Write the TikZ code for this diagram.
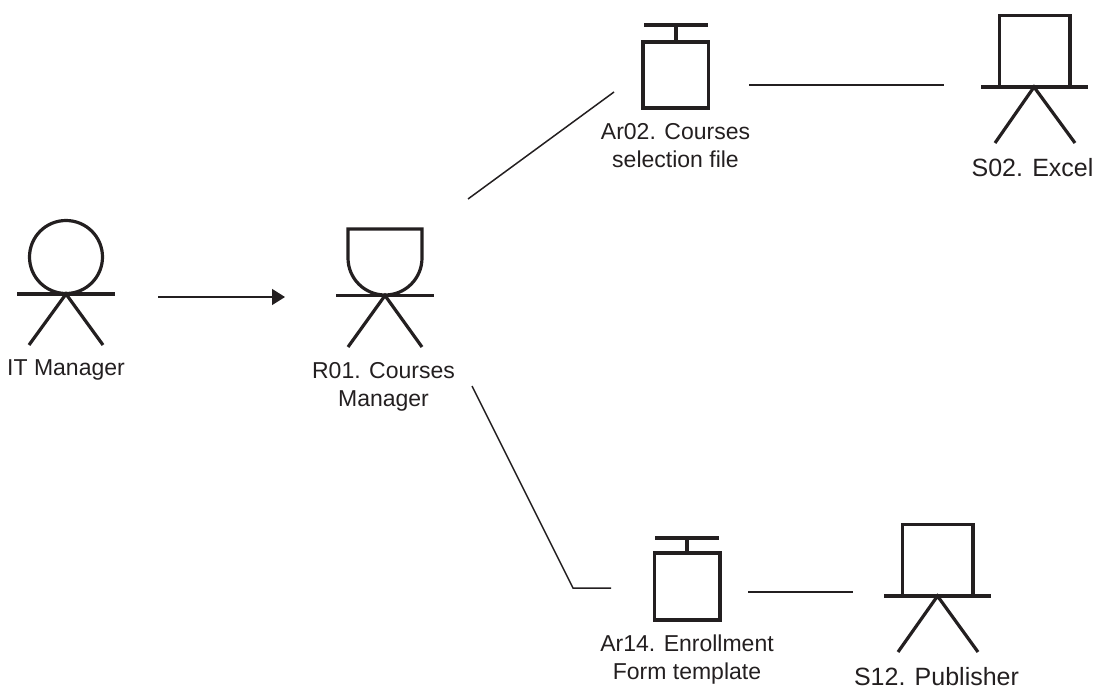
\documentclass[tikz,border=0pt]{standalone}
\usepackage{fontspec}
\setmainfont{Liberation Sans}
\usetikzlibrary{arrows.meta}
\definecolor{ink}{HTML}{231F20}
\tikzset{
  figure/.style={draw=ink,line width=3.2pt,line join=miter},
  link/.style={draw=ink,line width=1.5pt},
  caption/.style={text=ink,font=\fontsize{23}{28}\selectfont,align=center,inner sep=0pt,anchor=center},
  oneline/.style={caption,anchor=base},
  bigger/.style={font=\fontsize{25}{28}\selectfont},
  flowtip/.style={-{Triangle[length=13pt,width=16pt]}}
}
\begin{document}
\begin{tikzpicture}[x=1pt,y=-1pt]
\useasboundingbox (0,0) rectangle (1099,688);
% IT Manager
\draw[figure] (66,257) circle[radius=36.5];
\draw[figure] (17,294) -- (115,294);
\draw[figure] (29,345) -- (66,294) -- (103,345);
\node[oneline] (itm) at (66,375) {IT Manager};
% R01
\draw[figure] (348,229) -- (422,229) -- (422,258) arc[start angle=0,end angle=180,radius=37] -- cycle;
\draw[figure] (336,295.5) -- (434,295.5);
\draw[figure] (348,347) -- (385,295.5) -- (422,347);
\node[caption] (r01) at (383.5,387) {R01. Courses\\Manager};
% Ar02
\draw[figure] (643,42) rectangle (708.5,108);
\draw[figure] (676,25) -- (676,42);
\draw[figure] (644,25) -- (708,25);
\node[caption] (ar02) at (675.5,145.7) {Ar02. Courses\\selection file};
% S02
\draw[figure] (999.5,15.5) rectangle (1070,87);
\draw[figure] (981,87) -- (1088,87);
\draw[figure] (995,143) -- (1034,87) -- (1075,143);
\node[oneline,bigger] (s02) at (1032.5,176) {S02. Excel};
% Ar14
\draw[figure] (654.5,553) rectangle (720,620);
\draw[figure] (687,538) -- (687,553);
\draw[figure] (655,538) -- (719,538);
\node[caption] (ar14) at (687,659.2) {Ar14. Enrollment\\Form template};
% S12
\draw[figure] (902.5,524.5) rectangle (973,595.5);
\draw[figure] (884,596) -- (991,596);
\draw[figure] (898,652) -- (937.5,596) -- (978,652);
\node[oneline,bigger] (s12) at (936.5,685) {S12. Publisher};
% connector ends
\coordinate (itmE) at (158,297);
\coordinate (r01W) at (285,297);
\coordinate (r01NE) at (468,199);
\coordinate (ar02W) at (614,92);
\coordinate (ar02E) at (749,85);
\coordinate (s02W) at (944,85);
\coordinate (r01SE) at (472,386);
\coordinate (bend) at (573,588);
\coordinate (ar14W) at (611,588);
\coordinate (ar14E) at (748,592);
\coordinate (s12W) at (853,592);
\draw[link,flowtip] (itmE) -- (r01W);
\draw[link] (r01NE) -- (ar02W);
\draw[link] (ar02E) -- (s02W);
\draw[link] (r01SE) -- (bend) -- (ar14W);
\draw[link] (ar14E) -- (s12W);
\end{tikzpicture}
\end{document}
